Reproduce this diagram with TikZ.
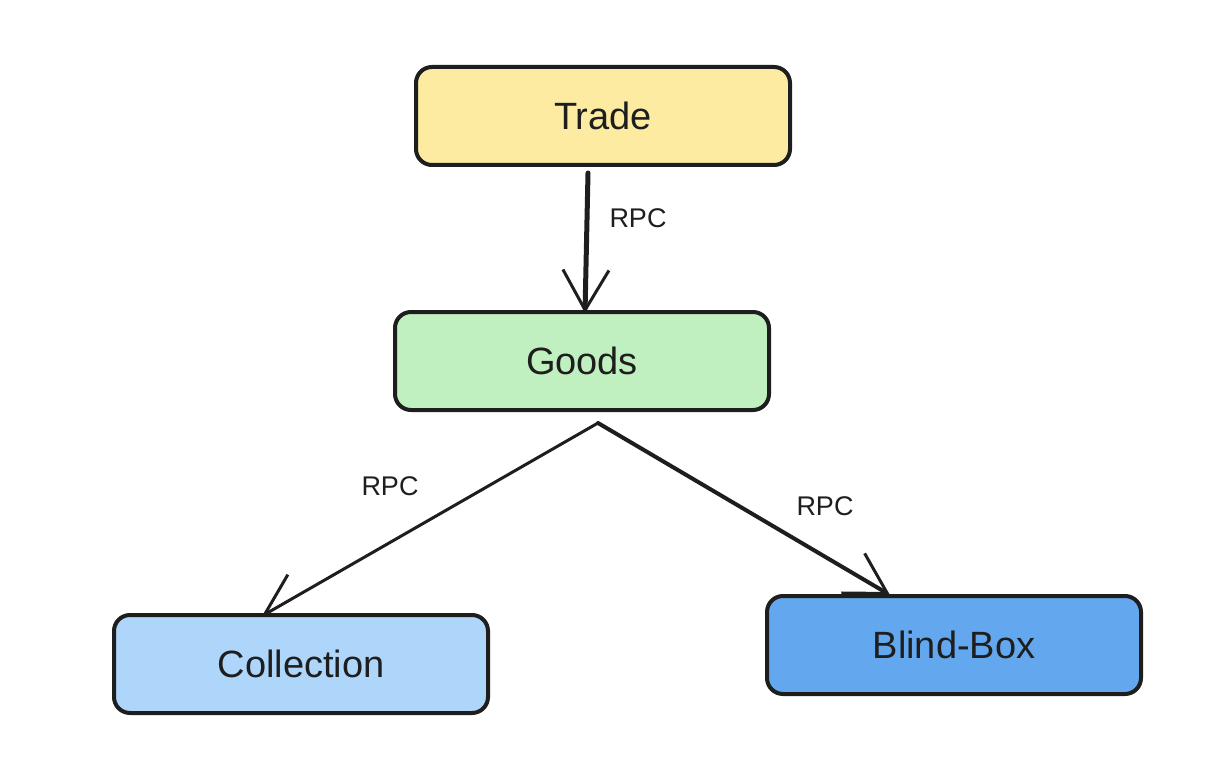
\documentclass[tikz,border=0pt]{standalone}
\usepackage{fontspec}
\setmainfont{Liberation Sans}
\usetikzlibrary{arrows.meta}
\definecolor{ink}{HTML}{1E1E1E}
\definecolor{cyellow}{HTML}{FCEBA0}
\definecolor{cgreen}{HTML}{C0F0C0}
\definecolor{clblue}{HTML}{ADD6FA}
\definecolor{cblue}{HTML}{63A8EE}
\tikzset{
  box/.style={draw=ink, line width=4pt, rounded corners=16pt, minimum width=374pt, minimum height=98pt,
    font=\fontsize{38}{42}\selectfont, text=ink, inner sep=0pt},
  conn/.style={draw=ink, line width=3pt, line cap=round,
    -{Straight Barb[length=40pt,width=46pt,line width=3pt]}},
  lbl/.style={font=\fontsize{27}{30}\selectfont, text=ink, inner sep=0pt}
}
\begin{document}
\begin{tikzpicture}[x=1pt,y=-1pt]
\useasboundingbox (0,0) rectangle (1224,770);
\node[box, fill=cyellow] (trade) at (603,116) {Trade};
\node[box, fill=cgreen] (goods) at (582,361) {Goods};
\node[box, fill=clblue] (coll) at (301,664) {Collection};
\node[box, fill=cblue] (blind) at (954,645) {Blind-Box};
\draw[conn, line width=5pt] ([xshift=-15pt,yshift=-6pt]trade.south) -- ([xshift=3pt,yshift=-3pt]goods.north);
\draw[conn] ([xshift=16pt,yshift=-11pt]goods.south) -- ([xshift=-39pt,yshift=-3pt]coll.north);
\draw[conn, line width=4pt] ([xshift=16pt,yshift=-11pt]goods.south) -- ([xshift=-64pt,yshift=-1pt]blind.north);
\node[lbl] (l1) at (638,218) {RPC};
\node[lbl] (l2) at (390,486) {RPC};
\node[lbl] (l3) at (825,506) {RPC};
\end{tikzpicture}
\end{document}
